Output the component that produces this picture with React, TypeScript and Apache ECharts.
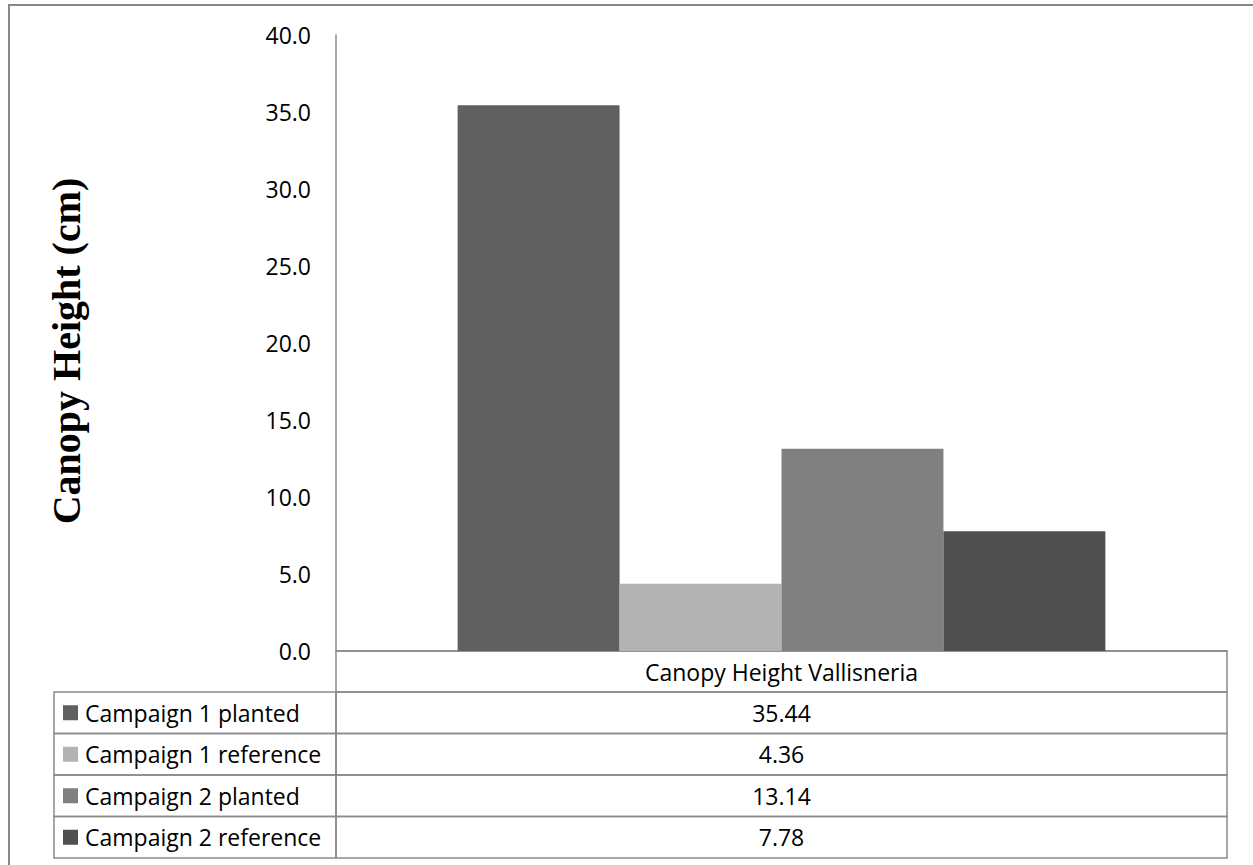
import React, { useEffect, useRef } from "react";
import * as echarts from "echarts";

// Chart data
const categories = ["Canopy Height Vallisneria"];
const seriesNames = [
  "Campaign 1 planted",
  "Campaign 1 reference",
  "Campaign 2 planted",
  "Campaign 2 reference",
];
const seriesValues = [35.44, 4.36, 13.14, 7.78];
const seriesColors = ["#606060", "#b3b3b3", "#808080", "#505050"];
const yAxisTitle = "Canopy Height (cm)";
const yMin = 0;
const yMax = 40;
const yInterval = 5;

// Layout
const W = 1253;
const H = 865;
const plotLeft = 336;
const plotRight = 1227;
const plotTop = 35;
const plotBottom = 651;
const headerBottom = 692;
const rowH = 41.5;
const tableLeft = 54;
const sansFont = "'Open Sans', 'Noto Sans', sans-serif";
const textSize = 23;
const gridStroke = "#8a8a8a";

export default function App() {
  const ref = useRef<HTMLDivElement>(null);

  useEffect(() => {
    if (!ref.current) return;
    const chart = echarts.init(ref.current, null, { renderer: "svg" });

    const tableGraphics: any[] = [];
    // header cell borders (below the category axis)
    tableGraphics.push({
      type: "rect",
      shape: { x: plotLeft, y: plotBottom, width: plotRight - plotLeft, height: headerBottom - plotBottom },
      style: { fill: "none", stroke: gridStroke, lineWidth: 1.5 },
      silent: true,
    });
    seriesNames.forEach((name, i) => {
      const y0 = headerBottom + i * rowH;
      const yc = y0 + rowH / 2;
      tableGraphics.push(
        {
          type: "rect",
          shape: { x: tableLeft, y: y0, width: plotLeft - tableLeft, height: rowH },
          style: { fill: "none", stroke: gridStroke, lineWidth: 1.5 },
          silent: true,
        },
        {
          type: "rect",
          shape: { x: plotLeft, y: y0, width: plotRight - plotLeft, height: rowH },
          style: { fill: "none", stroke: gridStroke, lineWidth: 1.5 },
          silent: true,
        },
        {
          type: "rect",
          shape: { x: 63, y: yc - 7.5, width: 15, height: 15 },
          style: { fill: seriesColors[i] },
          silent: true,
        },
        {
          type: "text",
          x: 85,
          y: yc,
          style: {
            text: name,
            fill: "#000",
            font: `${textSize}px ${sansFont}`,
            textAlign: "left",
            textVerticalAlign: "middle",
          },
          silent: true,
        },
        {
          type: "text",
          x: (plotLeft + plotRight) / 2,
          y: yc,
          style: {
            text: seriesValues[i].toFixed(2),
            fill: "#000",
            font: `${textSize}px ${sansFont}`,
            textAlign: "center",
            textVerticalAlign: "middle",
          },
          silent: true,
        }
      );
    });

    chart.setOption({
      animation: false,
      backgroundColor: "#ffffff",
      grid: {
        left: plotLeft,
        right: W - plotRight,
        top: plotTop,
        bottom: H - plotBottom,
        containLabel: false,
      },
      xAxis: {
        type: "category",
        data: categories,
        axisLine: { show: true, lineStyle: { color: gridStroke, width: 1.5 } },
        axisTick: { show: false },
        axisLabel: {
          margin: 20.5,
          verticalAlign: "middle",
          color: "#000",
          fontSize: textSize,
          fontFamily: sansFont,
        },
        splitLine: { show: false },
      },
      yAxis: {
        type: "value",
        min: yMin,
        max: yMax,
        interval: yInterval,
        axisLine: { show: true, lineStyle: { color: gridStroke, width: 1.5 } },
        axisTick: { show: false },
        splitLine: { show: false },
        axisLabel: {
          margin: 25,
          color: "#000",
          fontSize: textSize,
          fontFamily: sansFont,
          formatter: (v: number) => v.toFixed(1),
        },
      },
      series: seriesNames.map((name, i) => ({
        name,
        type: "bar",
        data: [seriesValues[i]],
        barGap: "0%",
        barCategoryGap: "27.3%",
        itemStyle: { color: seriesColors[i] },
        silent: true,
      })),
      graphic: [
        {
          type: "rect",
          shape: { x: 9, y: 5, width: W + 40, height: H + 40 },
          style: { fill: "none", stroke: "#888888", lineWidth: 2 },
          silent: true,
        },
        {
          type: "text",
          x: 66,
          y: 351,
          rotation: Math.PI / 2,
          style: {
            text: yAxisTitle,
            fill: "#000",
            font: `bold 40px 'Liberation Serif', 'DejaVu Serif', serif`,
            textAlign: "center",
            textVerticalAlign: "middle",
          },
          silent: true,
        },
        ...tableGraphics,
      ],
    });

    return () => chart.dispose();
  }, []);

  return (
    <div
      ref={ref}
      style={{ position: "absolute", left: 0, top: 0, width: W, height: H, background: "#fff" }}
    />
  );
}
